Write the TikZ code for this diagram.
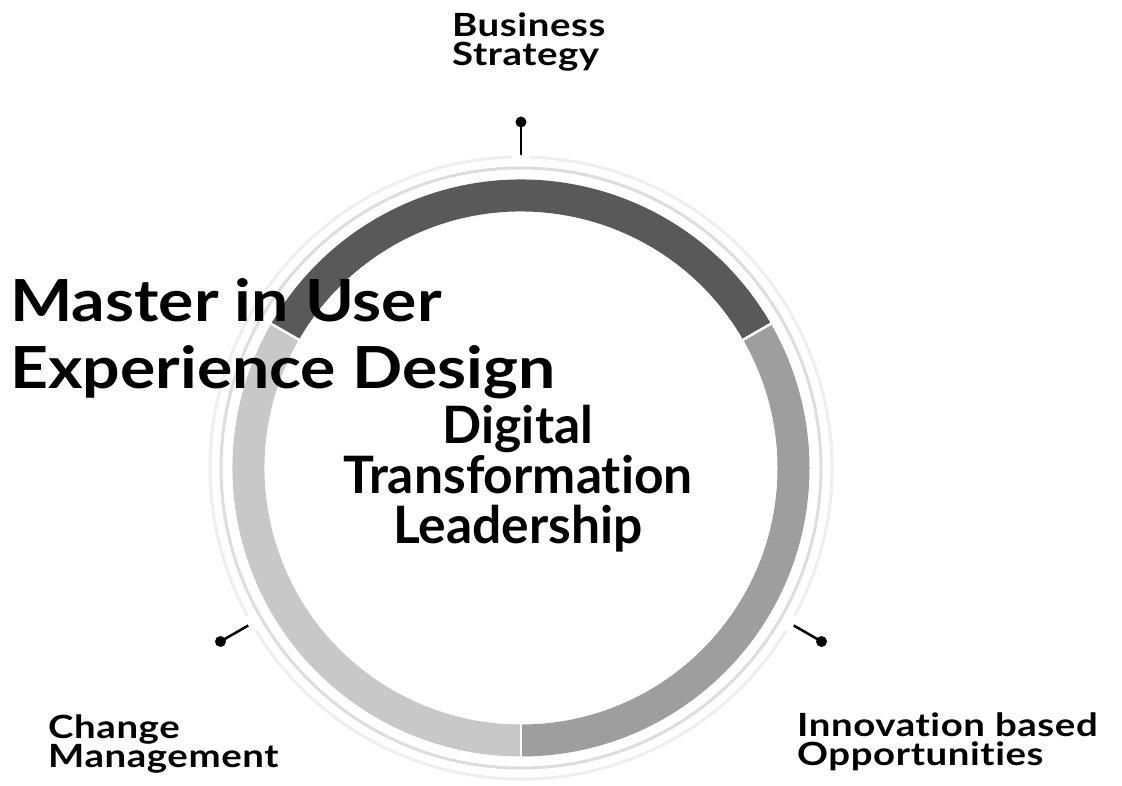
\documentclass[tikz,border=0pt]{standalone}
\usepackage{fontspec}
\setmainfont{Lato}[Ligatures=NoCommon]
\pgfdeclarelayer{edgelayer}
\pgfdeclarelayer{nodelayer}
\pgfsetlayers{edgelayer,nodelayer,main}
\definecolor{segdark}{HTML}{595959}
\definecolor{segmid}{HTML}{9E9E9E}
\definecolor{seglight}{HTML}{C8C8C8}
\definecolor{ringmid}{HTML}{DDDDDD}
\definecolor{ringouter}{HTML}{EEEEEE}
\tikzstyle{none}=[inner sep=0pt]
\tikzstyle{pin_dot}=[circle,fill=black,minimum size=11pt,inner sep=0pt]
\tikzstyle{pin_line}=[draw=black,line width=2.5pt]
\tikzstyle{segment}=[line width=32pt]
\tikzstyle{thin_ring}=[line width=3pt]
\tikzstyle{topic_text}=[inner sep=0pt,align=left,font=\fontsize{32}{29}\selectfont\bfseries\addfontfeatures{FakeStretch=1.2,LetterSpace=1.8}]

\begin{document}
\begin{tikzpicture}[x=1pt,y=1pt]
	\useasboundingbox (0,0) rectangle (1122,-786);
	\begin{scope}[shift={(521,-468)}]
		\begin{pgfonlayer}{nodelayer}
			\node [style={pin_dot}] (0) at (90:346) {};
			\node [style={pin_dot}] (1) at (210:347) {};
			\node [style={pin_dot}] (2) at (330:347) {};
			\coordinate (3) at (90:313);
			\coordinate (4) at (210:315);
			\coordinate (5) at (330:315);
		\end{pgfonlayer}
		\begin{pgfonlayer}{edgelayer}
			% ring segments
			\draw [style=segment, segdark] (30:272.5) arc[start angle=30, end angle=150, radius=272.5];
			\draw [style=segment, seglight] (150:272.5) arc[start angle=150, end angle=270, radius=272.5];
			\draw [style=segment, segmid] (270:272.5) arc[start angle=270, end angle=390, radius=272.5];
			\foreach \a in {30,150,270}
				\draw [white, line width=2.5pt] (\a:254) -- (\a:291);
			% thin rings
			\draw [style=thin_ring, ringmid] (0,0) circle (300);
			\foreach \a in {90,210,330}
				\draw [style=thin_ring, ringouter] (\a+1.6:311) arc[start angle=\a+1.6, end angle=\a+118.4, radius=311];
			% pins
			\draw [style=pin_line] (3) -- (0.center);
			\draw [style=pin_line] (4) -- (1.center);
			\draw [style=pin_line] (5) -- (2.center);
		\end{pgfonlayer}
	\end{scope}
	\begin{pgfonlayer}{nodelayer}
		\node [style=none, anchor=north, align=center, font=\fontsize{51.6}{50}\selectfont\bfseries] (6) at (518,-405) {Digital\\Transformation\\Leadership};
		\node [style={topic_text}, anchor=north west] (7) at (452,-13) {Business\\Strategy};
		\node [style={topic_text}, anchor=north west] (8) at (48,-715) {Change\\Management};
		\node [style={topic_text}, anchor=north west] (9) at (797,-713) {Innovation based\\Opportunities};
		\node [style=none, anchor=north west, align=left, font=\fontsize{58}{67}\selectfont\bfseries\addfontfeatures{FakeStretch=1.14}] (10) at (10,-278) {Master in User\\Experience Design};
	\end{pgfonlayer}
\end{tikzpicture}
\end{document}
